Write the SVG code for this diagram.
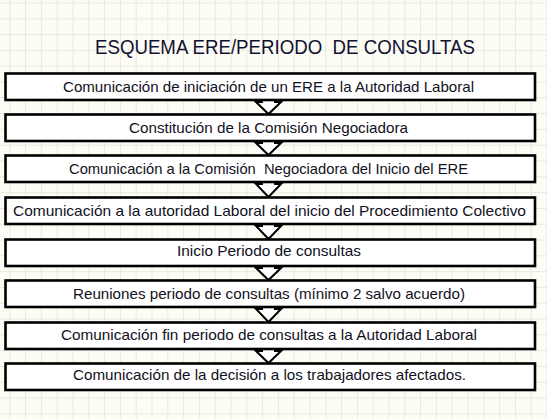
<svg xmlns="http://www.w3.org/2000/svg" width="547" height="419" viewBox="0 0 547 419" xml:space="preserve">
<defs>
<pattern id="grid" patternUnits="userSpaceOnUse" x="9.3" y="2.5" width="15.8" height="15.8">
<path d="M0.5 0V15.8M0 0.5H15.8" stroke="#e9e9e1" stroke-width="1" fill="none"/>
</pattern>
<style>
.box{fill:#ffffff;stroke:#000000;stroke-width:2.6}
.arr{fill:#ffffff;stroke:#000000;stroke-width:2;stroke-linejoin:miter}
.t{font-family:"Liberation Sans",Arial,sans-serif;font-size:14.8px;fill:#111122;text-anchor:middle;white-space:pre}
.title{font-family:"Liberation Sans",Arial,sans-serif;font-size:21px;fill:#111133;text-anchor:middle;white-space:pre}
</style>
</defs>
<rect width="547" height="419" fill="#fdfdf6"/>
<rect width="547" height="419" fill="url(#grid)"/>
<text class="title" x="285" y="54" textLength="380" lengthAdjust="spacingAndGlyphs">ESQUEMA ERE/PERIODO  DE CONSULTAS</text>
<g id="connectors">
<path class="arr" d="M262 95V102H256L268.5 114L281 102H275V95Z"/>
<path class="arr" d="M262 136V143H256L268.5 155L281 143H275V136Z"/>
<path class="arr" d="M262 177V184H256L268.5 197L281 184H275V177Z"/>
<path class="arr" d="M262 219V226H256L268.5 239L281 226H275V219Z"/>
<path class="arr" d="M262 261V268H256L268.5 280L281 268H275V261Z"/>
<path class="arr" d="M262 302V309H256L268.5 322L281 309H275V302Z"/>
<path class="arr" d="M262 344V351H256L268.5 363L281 351H275V344Z"/>
</g>
<g id="n1"><rect class="box" x="5.5" y="73.5" width="529.5" height="26.5"/><text class="t" x="268.5" y="91.5" textLength="411" lengthAdjust="spacingAndGlyphs">Comunicación de iniciación de un ERE a la Autoridad Laboral</text></g>
<g id="n2"><rect class="box" x="5.5" y="114.5" width="529.5" height="26.5"/><text class="t" x="268.5" y="132.5" textLength="279" lengthAdjust="spacingAndGlyphs">Constitución de la Comisión Negociadora</text></g>
<g id="n3"><rect class="box" x="5.5" y="155.5" width="529.5" height="26.5"/><text class="t" x="268.5" y="173.5" textLength="399" lengthAdjust="spacingAndGlyphs">Comunicación a la Comisión  Negociadora del Inicio del ERE</text></g>
<g id="n4"><rect class="box" x="5.5" y="197.5" width="529.5" height="26.5"/><text class="t" x="269.5" y="215.5" textLength="513" lengthAdjust="spacingAndGlyphs">Comunicación a la autoridad Laboral del inicio del Procedimiento Colectivo</text></g>
<g id="n5"><rect class="box" x="5.5" y="239.5" width="529.5" height="26.5"/><text class="t" x="269" y="255.5" textLength="184" lengthAdjust="spacingAndGlyphs">Inicio Periodo de consultas</text></g>
<g id="n6"><rect class="box" x="5.5" y="280.5" width="529.5" height="26.5"/><text class="t" x="269" y="298.5" textLength="392" lengthAdjust="spacingAndGlyphs">Reuniones periodo de consultas (mínimo 2 salvo acuerdo)</text></g>
<g id="n7"><rect class="box" x="5.5" y="322.5" width="529.5" height="26.5"/><text class="t" x="269" y="339.5" textLength="416" lengthAdjust="spacingAndGlyphs">Comunicación fin periodo de consultas a la Autoridad Laboral</text></g>
<g id="n8"><rect class="box" x="5.5" y="363.5" width="529.5" height="26.5"/><text class="t" x="269.5" y="379.5" textLength="393" lengthAdjust="spacingAndGlyphs">Comunicación de la decisión a los trabajadores afectados.</text></g>
</svg>
